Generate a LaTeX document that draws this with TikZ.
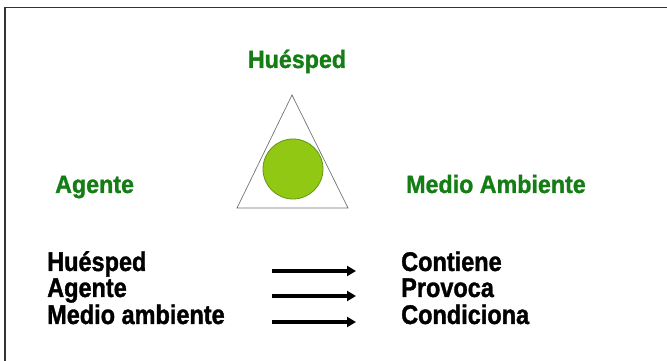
\documentclass[tikz,border=0pt]{standalone}
\usepackage{fontspec}
\setmainfont{Liberation Sans}
\newfontfamily\heavyfont[FakeStretch=0.87,FakeBold=1.3]{Liberation Sans Bold}
\newfontfamily\greenfont[FakeStretch=0.93,FakeBold=1.1]{Liberation Sans Bold}
\usetikzlibrary{arrows.meta}
\definecolor{lblgreen}{RGB}{20,125,20}
\definecolor{ballfill}{RGB}{145,200,20}
\definecolor{ballline}{RGB}{100,150,20}
\tikzset{
  greenlbl/.style={inner sep=0pt, text=lblgreen, font=\greenfont\fontsize{25}{28}\selectfont},
  blacklbl/.style={inner sep=0pt, anchor=base west, font=\heavyfont\fontsize{27}{30}\selectfont},
  relarrow/.style={line width=3.4pt, -{Triangle[length=9pt,width=10pt]}},
  frameline/.style={line width=1.8pt, draw=black!80}
}
\begin{document}
\begin{tikzpicture}[x=1pt,y=1pt]
\useasboundingbox (0,0) rectangle (667,361);
\fill[white] (0,0) rectangle (667,361);
% frame
\coordinate (fbl) at (5,0);
\coordinate (ftl) at (5,353.5);
\coordinate (ftr) at (667,353.5);
\draw[frameline] (fbl) -- (ftl) -- (ftr);
% triangle and ball
\coordinate (tapex) at (292,266);
\coordinate (tleft) at (237,153);
\coordinate (tright) at (348,153);
\draw[black!55, line width=0.7pt] (tapex) -- (tleft) -- (tright) -- cycle;
\node[circle, minimum size=60pt, inner sep=0pt, fill=ballfill, draw=ballline, line width=0.8pt] (ball) at (293,192) {};
% green labels
\node[greenlbl, anchor=base] (hues) at (297,293) {Huésped};
\node[greenlbl, anchor=base west] (agen) at (55,168) {Agente};
\node[greenlbl, anchor=base west] (medio) at (406,168) {Medio Ambiente};
% lower list
\node[blacklbl] (l1) at (47,90) {Huésped};
\node[blacklbl] (l2) at (47,64) {Agente};
\node[blacklbl] (l3) at (47,37) {Medio ambiente};
\node[blacklbl] (r1) at (401,90) {Contiene};
\node[blacklbl] (r2) at (401,64) {Provoca};
\node[blacklbl] (r3) at (401,37) {Condiciona};
\coordinate (a1s) at (272,90); \coordinate (a1e) at (356,90);
\coordinate (a2s) at (272,65); \coordinate (a2e) at (356,65);
\coordinate (a3s) at (272,39); \coordinate (a3e) at (356,39);
\draw[relarrow] (a1s) -- (a1e);
\draw[relarrow] (a2s) -- (a2e);
\draw[relarrow] (a3s) -- (a3e);
\end{tikzpicture}
\end{document}
